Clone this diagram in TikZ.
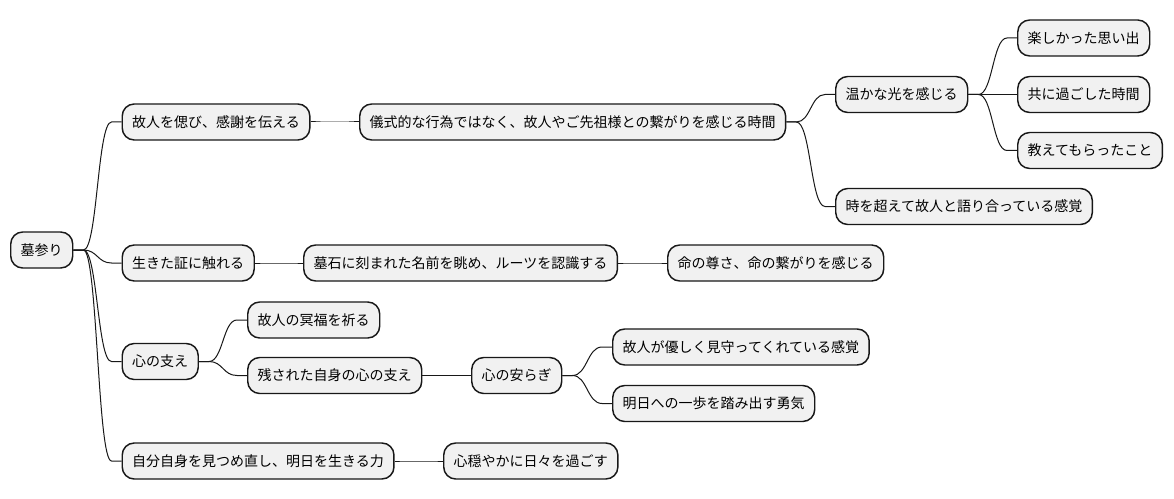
\documentclass[tikz,border=0pt]{standalone}
\usepackage{fontspec}
\usetikzlibrary{calc}
\setmainfont{Noto Sans CJK JP}
\definecolor{edge}{HTML}{181818}
\definecolor{boxfill}{HTML}{F1F1F1}
\tikzset{
  mm/.style={draw=edge,fill=boxfill,line width=1.1pt,rounded corners=9pt,inner xsep=7.5pt,inner ysep=0pt,minimum height=27pt,anchor=west,text=black,font=\fontsize{10.5pt}{12pt}\selectfont},
  lk/.style={draw=edge,line width=0.75pt}
}
\newcommand\mmlink[2]{\path[lk] let \p1=(#1.east), \p2=(#2.west) in (\p1) -- ++(7.5pt,0) .. controls ({0.5*(\x1+\x2)},\y1) and ({0.5*(\x1+\x2)},\y2) .. ({\x2-7.5pt},\y2) -- (\p2);}
\begin{document}
\begin{tikzpicture}[x=0.75pt,y=-0.75pt]
\fill[white] (0,0) rectangle (1174,499);
\useasboundingbox (0,0) rectangle (1174,499);
\node[mm] (root) at (10,250) {墓参り};
\node[mm] (a1) at (121.5,122) {故人を偲び、感謝を伝える};
\node[mm] (a2) at (359,122) {儀式的な行為ではなく、故人やご先祖様との繋がりを感じる時間};
\node[mm] (a3) at (835,94.5) {温かな光を感じる};
\node[mm] (a4) at (1017,38) {楽しかった思い出};
\node[mm] (a5) at (1017,94.5) {共に過ごした時間};
\node[mm] (a6) at (1017,150.5) {教えてもらったこと};
\node[mm] (a7) at (835,206.5) {時を超えて故人と語り合っている感覚};
\node[mm] (b1) at (121.5,263) {生きた証に触れる};
\node[mm] (b2) at (303,263) {墓石に刻まれた名前を眺め、ルーツを認識する};
\node[mm] (b3) at (667,263) {命の尊さ、命の繋がりを感じる};
\node[mm] (c1) at (121.5,361.5) {心の支え};
\node[mm] (c2) at (247,320) {故人の冥福を祈る};
\node[mm] (c3) at (247,375.5) {残された自身の心の支え};
\node[mm] (c4) at (471,375.5) {心の安らぎ};
\node[mm] (c5) at (612,347) {故人が優しく見守ってくれている感覚};
\node[mm] (c6) at (612,403.5) {明日への一歩を踏み出す勇気};
\node[mm] (d1) at (121.5,461) {自分自身を見つめ直し、明日を生きる力};
\node[mm] (d2) at (443,461) {心穏やかに日々を過ごす};
\mmlink{root}{a1}
\mmlink{a1}{a2}
\mmlink{a2}{a3}
\mmlink{a3}{a4}
\mmlink{a3}{a5}
\mmlink{a3}{a6}
\mmlink{a2}{a7}
\mmlink{root}{b1}
\mmlink{b1}{b2}
\mmlink{b2}{b3}
\mmlink{root}{c1}
\mmlink{c1}{c2}
\mmlink{c1}{c3}
\mmlink{c3}{c4}
\mmlink{c4}{c5}
\mmlink{c4}{c6}
\mmlink{root}{d1}
\mmlink{d1}{d2}
\end{tikzpicture}
\end{document}
